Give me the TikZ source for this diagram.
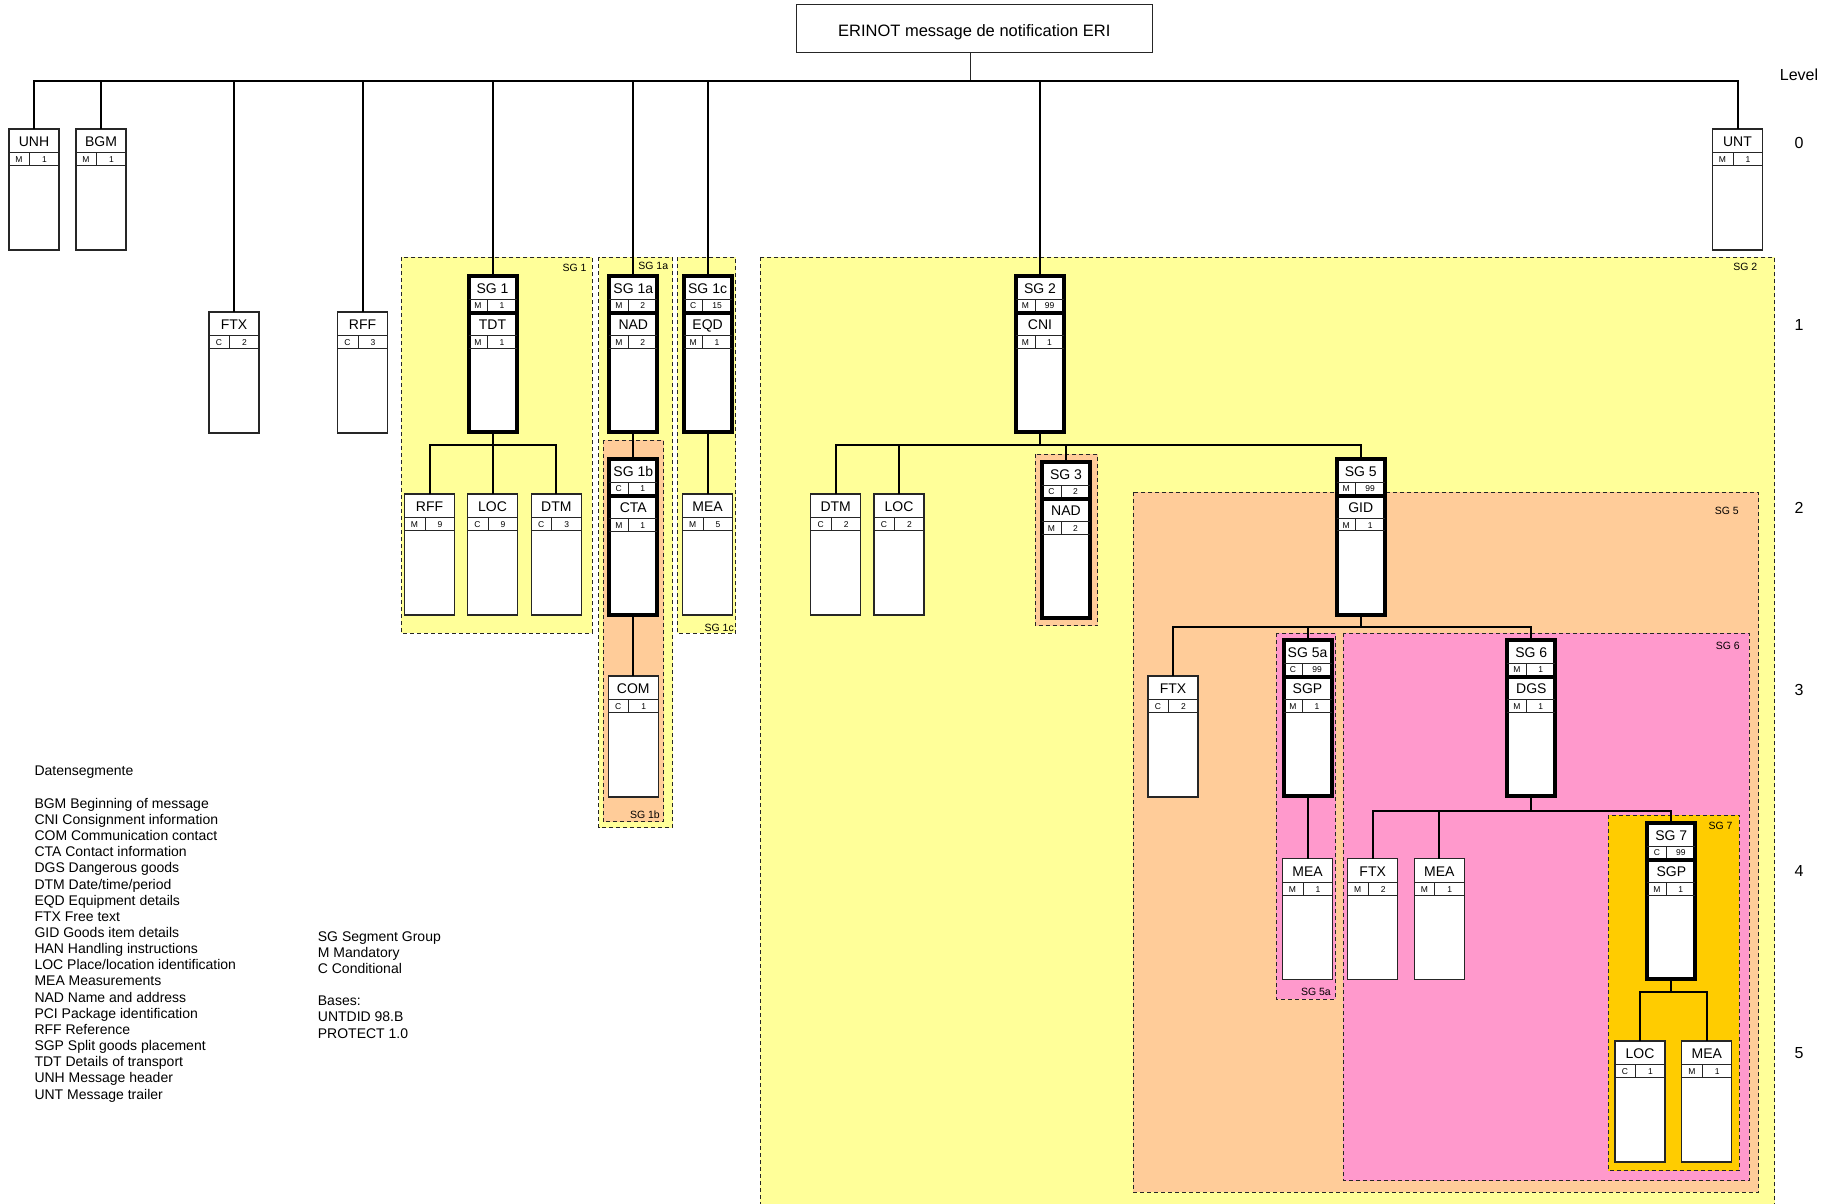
\documentclass[tikz,border=0pt]{standalone}
\usepackage{fontspec}
\setmainfont{Liberation Sans}
\definecolor{sgyellow}{HTML}{FFFF99}
\definecolor{sgorange}{HTML}{FFCC99}
\definecolor{sgpink}{HTML}{FF99CC}
\definecolor{sggold}{HTML}{FFCC00}
\newcommand\segbox[6]{%
  \node[sbox] (#1) at (#2,#3) {};
  \draw[rowline] (#2-25,#3+23.5) -- (#2+25,#3+23.5) (#2-25,#3+36.5) -- (#2+25,#3+36.5) (#2-4.5,#3+23.5) -- (#2-4.5,#3+36.5);
  \node[seglabel] (#1-l) at (#2,#3+17.5) {#4};
  \node[mclabel] (#1-m) at (#2-15,#3+33.8) {#5};
  \node[mclabel] (#1-n) at (#2+10.5,#3+33.8) {#6};
}
\newcommand\sgbox[9]{%
  \node[gbox] (#1) at (#2,#3-36) {};
  \draw[rowline] (#2-24,#3-12.5) -- (#2+24,#3-12.5) (#2-5,#3-12.5) -- (#2-5,#3);
  \draw[line width=4pt] (#2-24,#3+1) -- (#2+24,#3+1);
  \draw[rowline] (#2-24,#3+23.5) -- (#2+24,#3+23.5) (#2-24,#3+36) -- (#2+24,#3+36) (#2-5,#3+23.5) -- (#2-5,#3+36);
  \node[seglabel] (#1-l) at (#2,#3-18.5) {#4};
  \node[mclabel] (#1-m) at (#2-14.5,#3-3.5) {#5};
  \node[mclabel] (#1-n) at (#2+9.5,#3-3.5) {#6};
  \node[seglabel] (#1-sl) at (#2,#3+17.5) {#7};
  \node[mclabel] (#1-sm) at (#2-14.5,#3+33.8) {#8};
  \node[mclabel] (#1-sn) at (#2+9.5,#3+33.8) {#9};
}
\begin{document}
\begin{tikzpicture}[x=1pt,y=-1pt,
  conn/.style={line width=2pt, black},
  region/.style={draw=black!85, dash pattern=on 4pt off 3pt, line width=1pt},
  grplabel/.style={anchor=base east, inner sep=0, font=\fontsize{10.5}{12}\selectfont},
  sbox/.style={draw=black!85, fill=white, line width=1.3pt, minimum width=50pt, minimum height=121pt, anchor=north, inner sep=0, outer sep=0},
  gbox/.style={draw=black, fill=white, line width=4pt, minimum width=48pt, minimum height=156pt, anchor=north, inner sep=0, outer sep=0},
  rowline/.style={draw=black!85, line width=1pt},
  seglabel/.style={anchor=base, inner sep=0, font=\fontsize{14}{16}\selectfont},
  mclabel/.style={anchor=base, inner sep=0, font=\fontsize{8.5}{10}\selectfont},
  legend/.style={anchor=base west, inner sep=0, font=\fontsize{14}{16}\selectfont},
  levellabel/.style={anchor=base, inner sep=0, font=\fontsize{16}{18}\selectfont}]
\useasboundingbox (0,0) rectangle (1825,1203);
\clip (0,0) rectangle (1825,1203);
\fill[white] (0,0) rectangle (1825,1203);

% ---- group regions ----
\draw[region, fill=sgyellow] (760,257.3) rectangle (1774.5,1240);
\draw[region, fill=sgyellow] (401,257.3) rectangle (592.3,633.2);
\draw[region, fill=sgyellow] (598.5,257.3) rectangle (672.5,827.5);
\draw[region, fill=sgorange] (603,440) rectangle (663.5,821.7);
\draw[region, fill=sgyellow] (677.3,257.3) rectangle (735.7,633.3);
\draw[region, fill=sgorange] (1035,454.3) rectangle (1097.7,625.7);
\draw[region, fill=sgorange] (1133,492) rectangle (1758.5,1192);
\draw[region, fill=sgpink] (1276,633.3) rectangle (1335.5,999);
\draw[region, fill=sgpink] (1343.3,633.3) rectangle (1749.3,1180.7);
\draw[region, fill=sggold] (1608.3,815) rectangle (1739.3,1170.7);

\node[grplabel] (g1) at (586.7,271.5) {SG 1};
\node[grplabel] (g1a) at (668.3,269) {SG 1a};
\node[grplabel] (g1b) at (660,818) {SG 1b};
\node[grplabel] (g1c) at (734,631) {SG 1c};
\node[grplabel] (g2) at (1757.5,270) {SG 2};
\node[grplabel] (g5) at (1739,514) {SG 5};
\node[grplabel] (g5a) at (1331,995.5) {SG 5a};
\node[grplabel] (g6) at (1740,649) {SG 6};
\node[grplabel] (g7) at (1732.7,829) {SG 7};

% ---- title box ----
\node[draw=black!85, line width=1.3pt, fill=white, minimum width=356pt, minimum height=48pt, inner sep=0, outer sep=0] (erinot) at (974.3,28.7) {};
\node[anchor=base, inner sep=0, font=\fontsize{16.5}{18}\selectfont] (erinot-l) at (974.3,36.7) {ERINOT message de notification ERI};

% ---- boxes ----
\segbox{unh}{34}{129}{UNH}{M}{1}
\segbox{bgm}{101}{129}{BGM}{M}{1}
\segbox{unt}{1737.5}{129}{UNT}{M}{1}

\segbox{ftx1}{234}{312}{FTX}{C}{2}
\segbox{rff1}{362.5}{312}{RFF}{C}{3}
\sgbox{sg1}{492.5}{312}{SG 1}{M}{1}{TDT}{M}{1}
\sgbox{sg1a}{633.3}{312}{SG 1a}{M}{2}{NAD}{M}{2}
\sgbox{sg1c}{707.6}{312}{SG 1c}{C}{15}{EQD}{M}{1}
\sgbox{sg2}{1040}{312}{SG 2}{M}{99}{CNI}{M}{1}

\segbox{rff2}{429.5}{494}{RFF}{M}{9}
\segbox{loc2}{492.5}{494}{LOC}{C}{9}
\segbox{dtm2}{556.3}{494}{DTM}{C}{3}
\sgbox{sg1b}{633.3}{495}{SG 1b}{C}{1}{CTA}{M}{1}
\segbox{mea2}{707.6}{494}{MEA}{M}{5}
\segbox{dtm2b}{835.7}{494}{DTM}{C}{2}
\segbox{loc2b}{899}{494}{LOC}{C}{2}
\sgbox{sg3}{1066}{498}{SG 3}{C}{2}{NAD}{M}{2}
\sgbox{sg5}{1360.7}{494.5}{SG 5}{M}{99}{GID}{M}{1}

\segbox{com3}{633.3}{676}{COM}{C}{1}
\segbox{ftx3}{1173}{676}{FTX}{C}{2}
\sgbox{sg5a}{1307.5}{676}{SG 5a}{C}{99}{SGP}{M}{1}
\sgbox{sg6}{1531.3}{676}{SG 6}{M}{1}{DGS}{M}{1}

\segbox{mea4}{1307.5}{858.5}{MEA}{M}{1}
\segbox{ftx4}{1372.7}{858.5}{FTX}{M}{2}
\segbox{mea4b}{1439.3}{858.5}{MEA}{M}{1}
\sgbox{sg7}{1671.3}{859}{SG 7}{C}{99}{SGP}{M}{1}

\segbox{loc5}{1640}{1041}{LOC}{C}{1}
\segbox{mea5}{1706.8}{1041}{MEA}{M}{1}

% ---- connectors ----
\coordinate (top) at (0,80.7);
\coordinate (b1) at (0,444.8);
\coordinate (b2) at (0,445.2);
\coordinate (b3) at (0,626.7);
\coordinate (b4) at (0,810.5);
\coordinate (b5) at (0,992);

\draw[line width=1pt, black!85] ([xshift=-3.6pt]erinot.south) -- ([xshift=-3.6pt]erinot.south |- top);
\draw[conn] (unh.north) -- (unh.north |- top) -| (unt.north);
\foreach \n in {bgm,ftx1,rff1,sg1,sg1a,sg1c,sg2}
  \draw[conn] (\n.north) -- (\n.north |- top);

\draw[conn] (rff2.north) -- (rff2.north |- b1) -| (dtm2.north);
\draw[conn] (sg1.south) -- (loc2.north);
\draw[conn] (sg1a.south) -- (sg1b.north);
\draw[conn] (sg1b.south) -- (com3.north);
\draw[conn] (sg1c.south) -- (mea2.north);

\draw[conn] (dtm2b.north) -- (dtm2b.north |- b2) -| (sg5.north);
\draw[conn] (loc2b.north) -- (loc2b.north |- b2);
\draw[conn] (sg3.north) -- (sg3.north |- b2);
\draw[conn] (sg2.south) -- (sg2.south |- b2);

\draw[conn] (ftx3.north) -- (ftx3.north |- b3) -| (sg6.north);
\draw[conn] (sg5a.north) -- (sg5a.north |- b3);
\draw[conn] (sg5.south) -- (sg5.south |- b3);
\draw[conn] (sg5a.south) -- (mea4.north);

\draw[conn] (ftx4.north) -- (ftx4.north |- b4) -| (sg7.north);
\draw[conn] (mea4b.north) -- (mea4b.north |- b4);
\draw[conn] (sg6.south) -- (sg6.south |- b4);

\draw[conn] (loc5.north) -- (loc5.north |- b5) -| (mea5.north);
\draw[conn] (sg7.south) -- (sg7.south |- b5);

% ---- level labels ----
\node[levellabel] (lvl) at (1799,80.7) {Level};
\foreach \v/\y in {0/142.5,1/324.7,2/507.5,3/690,4/870.6,5/1053}
  \node[levellabel] (lvl\v) at (1799,\y+5.7) {\v};

% ---- legends ----
\node[legend] (legh) at (34.3,775.7) {Datensegmente};
\foreach \t [count=\i] in {BGM Beginning of message,CNI Consignment information,COM Communication contact,CTA Contact information,DGS Dangerous goods,DTM Date/time/period,EQD Equipment details,FTX Free text,GID Goods item details,HAN Handling instructions,LOC Place/location identification,MEA Measurements,NAD Name and address,PCI Package identification,RFF Reference,SGP Split goods placement,TDT Details of transport,UNH Message header,UNT Message trailer}
  \node[legend] (leg\i) at (34.3,{792.15+16.15*\i}) {\t};
\node[legend] (k1) at (317.7,941) {SG Segment Group};
\node[legend] (k2) at (317.7,957.2) {M Mandatory};
\node[legend] (k3) at (317.7,973.4) {C Conditional};
\node[legend] (k4) at (317.7,1005.7) {Bases:};
\node[legend] (k5) at (317.7,1021.9) {UNTDID 98.B};
\node[legend] (k6) at (317.7,1038.1) {PROTECT 1.0};
\end{tikzpicture}
\end{document}
